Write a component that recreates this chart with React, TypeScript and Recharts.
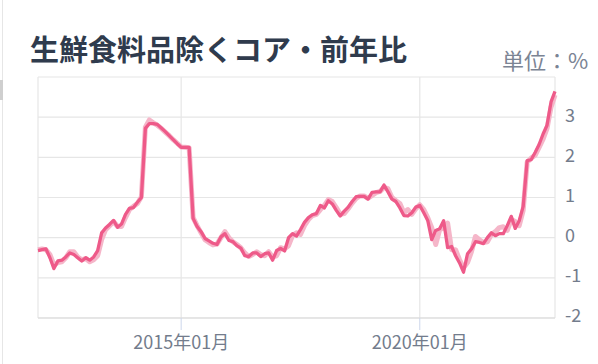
import React from 'react';
import { LineChart, Line, XAxis, YAxis, CartesianGrid } from 'recharts';

// monthly, 2012年01月 .. 2022年11月
const START_YEAR = 2012;
const MONTH_COUNT = 131;

const months: string[] = [];
for (let i = 0; i < MONTH_COUNT; i++) {
  const y = START_YEAR + Math.floor(i / 12);
  const m = (i % 12) + 1;
  months.push(`${y}年${m < 10 ? '0' + m : m}月`);
}

const xTicks = ['2015年01月', '2020年01月'];
const yTicks = [-2, -1, 0, 1, 2, 3, 4];

// dark line
const coreYoY = [
  -0.32, -0.3, -0.28, -0.5, -0.77, -0.58, -0.56, -0.48, -0.38, -0.42, -0.5, -0.58,
  -0.5, -0.56, -0.48, -0.32, 0.12, 0.24, 0.33, 0.43, 0.26, 0.34, 0.58, 0.73,
  0.75, 0.88, 1.0, 2.72, 2.84, 2.84, 2.82, 2.73, 2.64, 2.54, 2.44, 2.34,
  2.25, 2.25, 2.25, 0.48, 0.28, 0.15, -0.02, -0.08, -0.14, -0.17, 0.02, 0.1,
  -0.07, -0.1, -0.2, -0.26, -0.45, -0.47, -0.38, -0.38, -0.47, -0.4, -0.38, -0.56,
  -0.32, -0.27, -0.33, 0.0, 0.1, 0.04, 0.2, 0.38, 0.5, 0.57, 0.6, 0.8,
  0.74, 0.92, 0.84, 0.68, 0.54, 0.66, 0.76, 0.9, 1.02, 1.03, 1.03, 0.96,
  1.13, 1.14, 1.14, 1.31, 1.14, 0.96, 0.9, 0.74, 0.55, 0.54, 0.62, 0.76,
  0.8, 0.62, 0.43, -0.05, 0.18, 0.22, 0.42, -0.25, -0.22, -0.45, -0.63, -0.86,
  -0.4, -0.28, -0.1, -0.12, -0.15, 0.0, 0.12, 0.05, 0.1, 0.1, 0.3, 0.53,
  0.23, 0.42, 0.78, 1.92, 1.94, 2.12, 2.32, 2.58, 2.8, 3.38, 3.64,
];

// light (background) line
const coreYoYPrev = [
  -0.3, -0.28, -0.3, -0.42, -0.68, -0.62, -0.6, -0.5, -0.35, -0.35, -0.48, -0.55,
  -0.52, -0.6, -0.55, -0.45, -0.05, 0.2, 0.3, 0.4, 0.28, 0.28, 0.5, 0.7,
  0.78, 0.85, 1.02, 2.75, 2.93, 2.86, 2.8, 2.72, 2.63, 2.54, 2.44, 2.35,
  2.26, 2.25, 2.24, 0.5, 0.3, 0.12, -0.05, -0.12, -0.18, -0.16, 0.0, 0.15,
  0.0, -0.1, -0.17, -0.25, -0.38, -0.47, -0.42, -0.35, -0.42, -0.45, -0.35, -0.48,
  -0.45, -0.25, -0.28, -0.2, 0.05, 0.12, 0.08, 0.3, 0.45, 0.55, 0.58, 0.7,
  0.8, 0.95, 0.9, 0.75, 0.58, 0.6, 0.72, 0.86, 0.98, 1.04, 1.04, 0.98,
  1.05, 1.12, 1.15, 1.25, 1.22, 1.0, 0.92, 0.85, 0.62, 0.7, 0.58, 0.72,
  0.82, 0.7, 0.5, 0.25, -0.17, 0.2, 0.24, 0.36, -0.3, -0.3, -0.55, -0.75,
  -0.62, -0.35, 0.03, -0.05, -0.12, -0.1, 0.08, 0.15, 0.25, 0.27, 0.18, 0.45,
  0.4, 0.3, 0.68, 1.88, 1.98, 2.05, 2.25, 2.45, 2.72, 3.25, 3.55,
];

const data = months.map((month, i) => ({
  month,
  core: coreYoY[i],
  prev: coreYoYPrev[i],
}));

const FONT = '"Noto Sans CJK JP", "Noto Sans", sans-serif';
const LABEL = '#737c8c';

export default function App() {
  return (
    <div style={{ position: 'relative', width: 598, height: 364, background: '#fff', fontFamily: FONT }}>
      <style>{'body{margin:0}'}</style>
      <LineChart
        width={598}
        height={364}
        data={data}
        margin={{ top: 77, right: 0, left: 38, bottom: 0 }}
      >
        <CartesianGrid stroke="#e6e6e6" strokeWidth={1.2} />
        <XAxis
          dataKey="month"
          ticks={xTicks}
          height={46}
          tickSize={12}
          tickMargin={6}
          tickLine={{ stroke: '#ccd6eb' }}
          axisLine={{ stroke: '#d9d9d9' }}
          tick={{ fill: LABEL, fontSize: 18, fontFamily: FONT }}
        />
        <YAxis
          orientation="right"
          width={43}
          domain={[-2, 4]}
          ticks={yTicks}
          interval={0}
          tickSize={0}
          tickMargin={10}
          axisLine={false}
          tickFormatter={(v: number) => (v === 4 ? '' : String(v))}
          tick={{ fill: LABEL, fontSize: 18, fontFamily: FONT, dy: -2 }}
        />
        <Line
          type="linear"
          dataKey="prev"
          stroke="#f5b6c9"
          strokeWidth={5}
          dot={false}
          activeDot={false}
          strokeLinejoin="round"
          isAnimationActive={false}
        />
        <Line
          type="linear"
          dataKey="core"
          stroke="#ee5a89"
          strokeWidth={3.3}
          dot={false}
          activeDot={false}
          strokeLinejoin="round"
          isAnimationActive={false}
        />
      </LineChart>

      {/* card border on the left */}
      <div style={{ position: 'absolute', left: 2, top: 0, width: 1, height: 364, background: '#e6e6e6' }} />
      <div style={{ position: 'absolute', left: 0, top: 80, width: 3, height: 20, background: '#cfcfcf' }} />

      <div
        style={{
          position: 'absolute',
          left: 30,
          top: 33,
          fontSize: 29,
          lineHeight: '30px',
          fontWeight: 700,
          color: '#2f3b4d',
          whiteSpace: 'nowrap',
        }}
      >
        生鮮食料品除くコア・前年比
      </div>
      <div
        style={{
          position: 'absolute',
          left: 502,
          top: 47,
          fontSize: 22,
          lineHeight: '24px',
          color: '#7b8494',
          whiteSpace: 'nowrap',
        }}
      >
        単位：%
      </div>
    </div>
  );
}
